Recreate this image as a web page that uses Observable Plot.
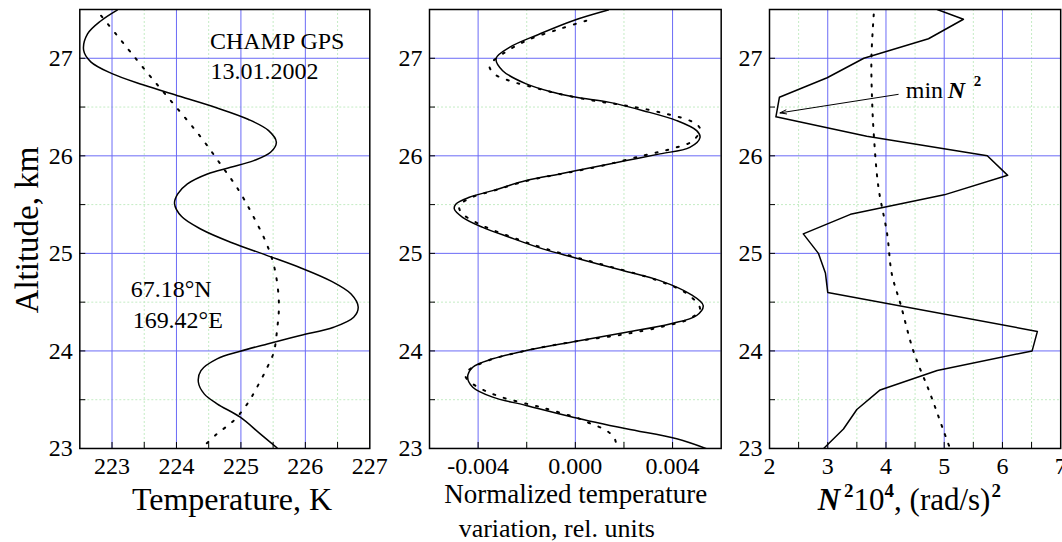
<!DOCTYPE html>
<html>
<head>
<meta charset="utf-8">
<script src="https://cdn.jsdelivr.net/npm/d3@7"></script>
<script src="https://cdn.jsdelivr.net/npm/@observablehq/plot@0.6"></script>
<style>
  html, body { margin: 0; padding: 0; background: #fff; }
  #wrap { position: relative; width: 1062px; height: 542px; overflow: hidden; background: #fff; }
  #wrap svg { position: absolute; top: 0; }
  #wrap svg g[aria-label$="tick label"] { font-size: 24px !important; font-family: "Liberation Serif", "Times New Roman", serif; }
</style>
</head>
<body>
<div id="wrap"></div>
<script>
// ---------------- data ----------------
const altMajor = [23, 24, 25, 26, 27];
const altMinor = [23.5, 24.5, 25.5, 26.5];
const altTicks = [23, 23.5, 24, 24.5, 25, 25.5, 26, 26.5, 27];

const tempMajor = [223, 224, 225, 226];
const tempMinor = [223.5, 224.5, 225.5, 226.5];
const tempTicks = [223, 223.5, 224, 224.5, 225, 225.5, 226, 226.5];
const tempLabels = [223, 224, 225, 226, 227];

const normMajor = [-0.004, 0, 0.004];
const normMinor = [-0.002, 0.002];
const normTicks = [-0.004, -0.002, 0, 0.002, 0.004];
const normLabels = [-0.004, 0, 0.004];

const n2Major = [3, 4, 5, 6];
const n2Minor = [2.5, 3.5, 4.5, 5.5, 6.5];
const n2Ticks = [2.5, 3, 3.5, 4, 4.5, 5, 5.5, 6, 6.5];
const n2Labels = [2, 3, 4, 5, 6, 7];

// Panel 1: temperature profile (solid) and background (dotted)
const tempSolidAlt = [27.494, 27.385, 27.249, 27.080, 26.963, 26.845, 26.728, 26.610, 26.493, 26.375, 26.258, 26.140, 26.036, 25.951, 25.882, 25.814, 25.712, 25.609, 25.510, 25.377, 25.245, 25.112, 24.980, 24.848, 24.715, 24.583, 24.450, 24.345, 24.243, 24.158, 24.072, 23.997, 23.919, 23.799, 23.679, 23.560, 23.458, 23.321, 23.150, 23.007];
const tempSolidT   = [223.08, 222.83, 222.62, 222.56, 222.67, 222.99, 223.48, 224.05, 224.62, 225.11, 225.43, 225.55, 225.46, 225.20, 224.84, 224.48, 224.17, 224.02, 223.97, 224.08, 224.39, 224.85, 225.40, 225.94, 226.40, 226.71, 226.82, 226.75, 226.44, 225.92, 225.41, 224.99, 224.63, 224.38, 224.34, 224.43, 224.63, 224.99, 225.30, 225.56];

const tempDotAlt = [27.436, 27.249, 27.061, 26.770, 26.480, 26.190, 25.917, 25.643, 25.370, 25.080, 24.824, 24.482, 24.209, 23.987, 23.833, 23.628, 23.458, 23.287, 23.150, 22.997];
const tempDotT   = [222.83, 223.06, 223.29, 223.65, 224.02, 224.38, 224.68, 224.97, 225.20, 225.41, 225.53, 225.59, 225.56, 225.51, 225.41, 225.25, 225.10, 224.89, 224.63, 224.38];

// Panel 2: normalized temperature variation
const normSolidAlt = [27.494, 27.385, 27.249, 27.112, 26.999, 26.873, 26.737, 26.651, 26.600, 26.548, 26.463, 26.361, 26.258, 26.190, 26.087, 26.020, 25.951, 25.882, 25.814, 25.746, 25.643, 25.575, 25.507, 25.456, 25.370, 25.267, 25.165, 25.046, 24.960, 24.824, 24.721, 24.585, 24.465, 24.363, 24.277, 24.192, 24.099, 24.004, 23.919, 23.833, 23.730, 23.628, 23.526, 23.441, 23.321, 23.202, 23.099, 22.997];
const normSolidV   = [0.00135, -0.00010, -0.00147, -0.00271, -0.00326, -0.00299, -0.00202, -0.00092, 0.00004, 0.00141, 0.00279, 0.00417, 0.00499, 0.00513, 0.00471, 0.00348, 0.00210, 0.00073, -0.00065, -0.00202, -0.00340, -0.00436, -0.00491, -0.00498, -0.00464, -0.00381, -0.00271, -0.00134, -0.00010, 0.00196, 0.00348, 0.00471, 0.00526, 0.00499, 0.00389, 0.00210, 0.00004, -0.00202, -0.00340, -0.00422, -0.00443, -0.00422, -0.00340, -0.00202, -0.00010, 0.00210, 0.00417, 0.00540];

const normDotAlt = [27.385, 27.300, 27.180, 27.044, 26.924, 26.839, 26.770, 26.695, 26.634, 26.566, 26.514, 26.446, 26.344, 26.276, 26.156, 26.087, 26.002, 25.882, 25.746, 25.643, 25.575, 25.490, 25.420, 25.300, 25.165, 25.046, 24.900, 24.721, 24.585, 24.430, 24.330, 24.250, 24.170, 24.099, 24.004, 23.900, 23.800, 23.740, 23.650, 23.533, 23.417, 23.304, 23.259, 23.184, 23.099, 23.013];
const normDotV   = [0.00045, -0.00065, -0.00202, -0.00299, -0.00353, -0.00333, -0.00271, -0.00161, -0.00065, 0.00073, 0.00210, 0.00348, 0.00485, 0.00513, 0.00485, 0.00417, 0.00279, 0.00080, -0.00195, -0.00335, -0.00425, -0.00477, -0.00470, -0.00395, -0.00260, -0.00120, 0.00090, 0.00340, 0.00460, 0.00513, 0.00470, 0.00360, 0.00200, 0.00004, -0.00202, -0.00360, -0.00440, -0.00452, -0.00415, -0.00312, -0.00134, 0.00018, 0.00059, 0.00128, 0.00162, 0.00169];

// Panel 3: buoyancy frequency squared
const n2SolidAlt = [27.5, 27.4, 27.2, 27.0, 26.8, 26.6, 26.4, 26.2, 26.0, 25.8, 25.6, 25.4, 25.2, 25.0, 24.8, 24.6, 24.2, 24.0, 23.8, 23.6, 23.4, 23.2, 23.0];
const n2SolidV   = [4.88, 5.33, 4.73, 3.62, 2.99, 2.17, 2.11, 3.67, 5.74, 6.09, 5.00, 3.39, 2.58, 2.84, 2.96, 3.00, 6.60, 6.51, 4.88, 3.90, 3.50, 3.27, 2.93];

const n2DotAlt = [27.45, 27.0, 26.6, 26.227, 25.68, 25.2, 24.79, 24.48, 24.0, 23.56, 23.18, 23.0];
const n2DotV   = [3.79, 3.75, 3.76, 3.79, 3.87, 4.02, 4.10, 4.25, 4.47, 4.76, 4.99, 5.10];

// annotation arrow for "min N²" (tail -> head, data units)
const minArrow = [{u1: 4.21, a1: 26.63, u2: 2.18, a2: 26.44}];

// ---------------- helpers ----------------
const FONT = '"Liberation Serif", "Times New Roman", serif';
const MAJOR = "#6a6af6";
const MINOR = "#c4ecc4";
const rows = (alts, vals) => alts.map((a, i) => ({alt: a, v: vals[i]}));
const wrap = document.getElementById("wrap");

function panel(o) {
  const svg = Plot.plot({
    width: o.ml + o.pw + o.mr,
    height: 542,
    marginTop: 9,
    marginBottom: 94,
    marginLeft: o.ml,
    marginRight: o.mr,
    x: {domain: o.xDomain, label: null},
    y: {domain: [23, 27.5], label: null},
    style: {fontFamily: FONT, fontSize: "24px", color: "black", background: "transparent", overflow: "visible"},
    marks: [
      Plot.ruleX(o.xMinor, {stroke: MINOR, strokeDasharray: "2,2"}),
      Plot.ruleY(altMinor, {stroke: MINOR, strokeDasharray: "2,2"}),
      Plot.ruleX(o.xMajor, {stroke: MAJOR}),
      Plot.ruleY(altMajor, {stroke: MAJOR}),
      ...o.marks,
      Plot.frame({stroke: "black", strokeWidth: 1.5}),
      Plot.axisX({ticks: o.xTicks, tickSize: 6, dy: -6, tickFormat: () => "", label: null}),
      Plot.axisY({ticks: altTicks, tickSize: 6, dx: 6, tickFormat: () => "", label: null}),
      Plot.axisX({ticks: o.xLabels, tickSize: 0, tickPadding: 8, fontSize: 24, tickFormat: o.fmt, label: null}),
      Plot.axisY({ticks: altMajor, tickSize: 0, tickPadding: 7, fontSize: 24, tickFormat: d => String(d), label: null})
    ]
  });
  svg.style.left = (o.frameLeft - o.ml) + "px";
  wrap.appendChild(svg);
  return svg;
}

const solid = {x: "v", y: "alt", stroke: "black", strokeWidth: 1.5, clip: true};
const dotted = {x: "v", y: "alt", stroke: "black", strokeWidth: 2, strokeDasharray: "2,9", clip: true};

// ---------------- panel 1 ----------------
const svg1 = panel({
  frameLeft: 79.3, ml: 79.3, pw: 290, mr: 2,
  xDomain: [222.5, 227], xMajor: tempMajor, xMinor: tempMinor, xTicks: tempTicks, xLabels: tempLabels,
  fmt: d => String(d),
  marks: [
    Plot.line(rows(tempDotAlt, tempDotT), {...dotted, curve: "catmull-rom"}),
    Plot.line(rows(tempSolidAlt, tempSolidT), {...solid, curve: "catmull-rom"}),
    Plot.text(["CHAMP GPS"], {x: 224.52, y: 27.10, text: d => d, textAnchor: "start", lineAnchor: "bottom", fontSize: 24}),
    Plot.text(["13.01.2002"], {x: 224.53, y: 26.79, text: d => d, textAnchor: "start", lineAnchor: "bottom", fontSize: 24}),
    Plot.text(["67.18°N"], {x: 223.29, y: 24.548, text: d => d, textAnchor: "start", lineAnchor: "bottom", fontSize: 24}),
    Plot.text(["169.42°E"], {x: 223.32, y: 24.23, text: d => d, textAnchor: "start", lineAnchor: "bottom", fontSize: 24})
  ]
});

// ---------------- panel 2 ----------------
const svg2 = panel({
  frameLeft: 429.3, ml: 50, pw: 291.7, mr: 2,
  xDomain: [-0.006, 0.006], xMajor: normMajor, xMinor: normMinor, xTicks: normTicks, xLabels: normLabels,
  fmt: d => d.toFixed(3),
  marks: [
    Plot.line(rows(normDotAlt, normDotV), {...dotted, curve: "catmull-rom"}),
    Plot.line(rows(normSolidAlt, normSolidV), {...solid, curve: "catmull-rom"})
  ]
});

// ---------------- panel 3 ----------------
const svg3 = panel({
  frameLeft: 769.3, ml: 50, pw: 291.2, mr: 2,
  xDomain: [2, 7], xMajor: n2Major, xMinor: n2Minor, xTicks: n2Ticks, xLabels: n2Labels,
  fmt: d => String(d),
  marks: [
    Plot.line(rows(n2DotAlt, n2DotV), {...dotted, strokeDasharray: "2,8", curve: "catmull-rom"}),
    Plot.line(rows(n2SolidAlt, n2SolidV), {...solid, curve: "linear"}),
    Plot.arrow(minArrow, {x1: "u1", y1: "a1", x2: "u2", y2: "a2", stroke: "black", strokeWidth: 1, headLength: 10, headAngle: 35}),
    Plot.text(["min"], {x: 4.34, y: 26.59, text: d => d, textAnchor: "start", lineAnchor: "bottom", fontSize: 24}),
    Plot.text(["N"], {x: 4.34, y: 26.59, dx: 42, text: d => d, textAnchor: "start", lineAnchor: "bottom", fontSize: 24, fontWeight: "bold", fontStyle: "italic"}),
    Plot.text(["2"], {x: 4.34, y: 26.59, dx: 68, dy: -12, text: d => d, textAnchor: "start", lineAnchor: "bottom", fontSize: 15, fontWeight: "bold"})
  ]
});

// ---------------- axis titles ----------------
d3.select(svg1).append("text")
  .attr("transform", "translate(38,230) rotate(-90)")
  .attr("text-anchor", "middle")
  .attr("font-family", FONT).attr("font-size", 33).attr("fill", "black")
  .text("Altitude, km");

d3.select(svg1).append("text")
  .attr("x", 232).attr("y", 510)
  .attr("text-anchor", "middle")
  .attr("font-family", FONT).attr("font-size", 32).attr("fill", "black")
  .text("Temperature, K");

// middle panel svg starts at 379.3
d3.select(svg2).append("text")
  .attr("x", 576 - 379.3).attr("y", 503)
  .attr("text-anchor", "middle")
  .attr("font-family", FONT).attr("font-size", 27).attr("fill", "black")
  .text("Normalized temperature");
d3.select(svg2).append("text")
  .attr("x", 459 - 379.3).attr("y", 537)
  .attr("text-anchor", "start")
  .attr("font-family", FONT).attr("font-size", 26).attr("fill", "black")
  .text("variation, rel. units");

// right panel svg starts at 719.3
const lab = d3.select(svg3).append("text")
  .attr("x", 818 - 719.3).attr("y", 510)
  .attr("text-anchor", "start")
  .attr("font-family", FONT).attr("font-size", 31).attr("fill", "black");
lab.append("tspan").attr("font-weight", "bold").attr("font-style", "italic").text("N");
lab.append("tspan").attr("font-size", 19).attr("font-weight", "bold").attr("dx", 4).attr("dy", -13).text("2");
lab.append("tspan").attr("dy", 13).text("10");
lab.append("tspan").attr("font-size", 19).attr("font-weight", "bold").attr("dy", -13).text("4");
lab.append("tspan").attr("dy", 13).text(", (rad/s)");
lab.append("tspan").attr("font-size", 19).attr("font-weight", "bold").attr("dx", 1).attr("dy", -13).text("2");
</script>
</body>
</html>
